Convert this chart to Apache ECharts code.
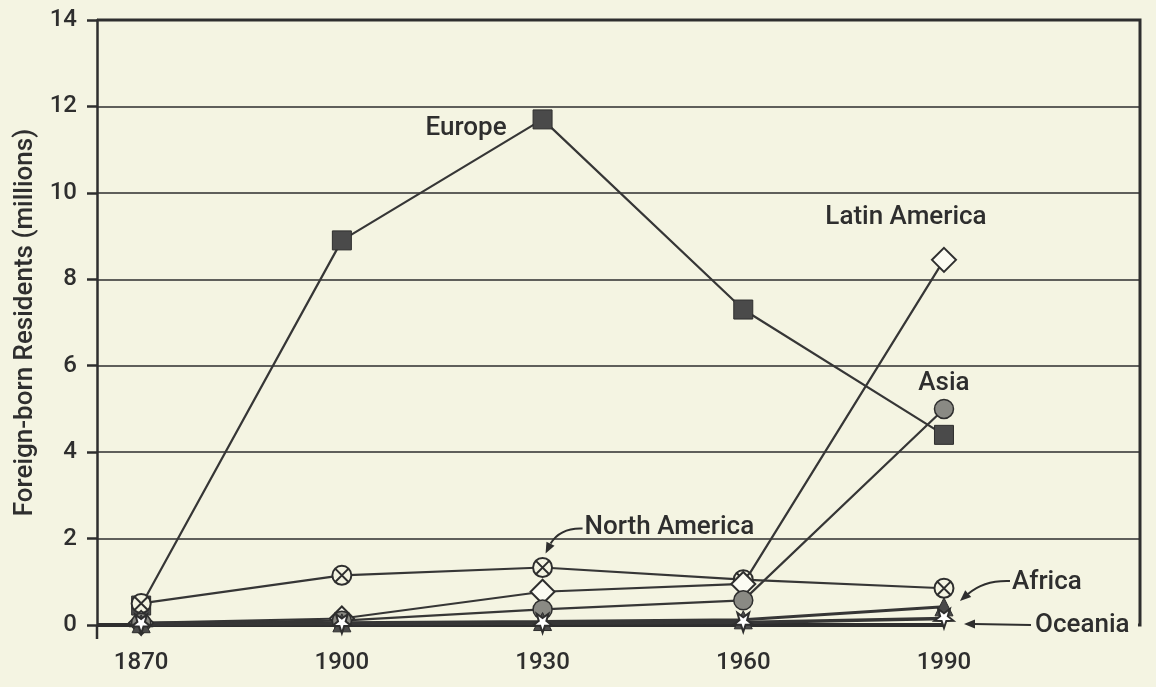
<!DOCTYPE html>
<html>
<head>
<meta charset="utf-8">
<script src="https://cdn.jsdelivr.net/npm/echarts@6/dist/echarts.min.js"></script>
<style>
  html, body { margin: 0; padding: 0; background: #f4f4e2; }
  #chart { width: 1156px; height: 687px; }
</style>
</head>
<body>
<div id="chart"></div>
<script>
// census years on the x axis
const years = [1870, 1900, 1930, 1960, 1990];
// foreign-born residents, millions
const europe       = [0.45, 8.9, 11.7, 7.3, 4.4];
const northAmerica = [0.5, 1.15, 1.33, 1.05, 0.85];
const latinAmerica = [0.05, 0.15, 0.77, 0.95, 8.45];
const asia         = [0.05, 0.1, 0.36, 0.57, 5.0];
const africa       = [0.03, 0.05, 0.08, 0.12, 0.42];
const oceania      = [0.02, 0.03, 0.04, 0.06, 0.15];

const ink = '#2e2e2e';
const lineInk = '#363636';
const font = 'Roboto, "DejaVu Sans", sans-serif';

// symbols
const circleCross = 'path://M10,0A10,10,0,1,1,10,20A10,10,0,1,1,10,0ZM3,3L17,17M17,3L3,17';
const starDown = 'path://M10,20L7.65,13.24L0.49,13.09L6.2,8.76L4.12,1.91L10,6L15.88,1.91L13.8,8.76L19.51,13.09L12.35,13.24Z';

function mk(name, vals, symbol, size, fill, bw, lw) {
  return {
    type: 'line',
    name: name,
    data: years.map((y, i) => [y, vals[i]]),
    symbol: symbol,
    symbolSize: size,
    showAllSymbol: true,
    itemStyle: { color: fill, borderColor: ink, borderWidth: bw },
    lineStyle: { color: lineInk, width: lw || 2.2 },
    emphasis: { disabled: true },
    silent: true
  };
}

const chart = echarts.init(document.getElementById('chart'));

chart.setOption({
  backgroundColor: '#f4f4e2',
  animation: false,
  textStyle: { fontFamily: font },
  grid: { left: 97, right: 16, top: 20, bottom: 62 },
  xAxis: {
    type: 'value',
    min: 1863.4,
    max: 2019.3,
    axisLine: { show: false },
    axisTick: { show: false },
    splitLine: { show: false },
    axisLabel: {
      customValues: years,
      formatter: v => String(v),
      color: ink,
      fontSize: 24,
      fontWeight: 500,
      margin: 26,
      fontFamily: font
    }
  },
  yAxis: {
    type: 'value',
    min: 0,
    max: 14,
    interval: 2,
    name: 'Foreign-born Residents (millions)',
    nameLocation: 'middle',
    nameGap: 58,
    nameTextStyle: { color: ink, fontSize: 26, fontWeight: 500, fontFamily: font },
    axisLine: { show: true, lineStyle: { color: ink, width: 2.5 } },
    axisTick: { show: true, length: 10, lineStyle: { color: ink, width: 2.5 } },
    axisLabel: { color: ink, fontSize: 24, fontWeight: 500, margin: 20, fontFamily: font },
    splitLine: { show: true, showMinLine: false, lineStyle: { color: ink, width: 1.6 } }
  },
  series: [
    mk('Europe', europe, 'rect', 19, '#4a4a4a', 1),
    mk('North America', northAmerica, circleCross, 19, '#f4f4e2', 2),
    mk('Latin America', latinAmerica, 'diamond', 24, '#fbfbf2', 2),
    mk('Asia', asia, 'circle', 19, '#8a8a84', 1.5),
    mk('Africa', africa, 'triangle', 18, '#4a4a4a', 1, 3),
    mk('Oceania', oceania, starDown, 19, '#ffffff', 2, 3.5)
  ]
});

// annotations, anchored on data points
const px = (x, y) => chart.convertToPixel({ gridIndex: 0 }, [x, y]);
const last = years.length - 1;
const E = px(years[2], europe[2]);
const L = px(years[last], latinAmerica[last]);
const S = px(years[last], asia[last]);
const N = px(years[2], northAmerica[2]);
const O = px(years[last], 0);
const Z0 = px(1863.4, 0);
const TR = px(2019.3, 14);

function head(tip, from, len, hw) {
  const dx = tip[0] - from[0], dy = tip[1] - from[1];
  const d = Math.sqrt(dx * dx + dy * dy);
  const ux = dx / d, uy = dy / d;
  const bx = tip[0] - ux * len, by = tip[1] - uy * len;
  return {
    type: 'polygon', z: 20, silent: true,
    shape: { points: [tip, [bx - uy * hw, by + ux * hw], [bx + uy * hw, by - ux * hw]] },
    style: { fill: ink }
  };
}

function label(text, x, y, align) {
  return {
    type: 'text', z: 20, silent: true, x: x, y: y,
    style: { text: text, fill: ink, font: '500 26px ' + font, align: align || 'left', verticalAlign: 'middle' }
  };
}

const ocRight = O[0] + 93 + 98;

chart.setOption({
  graphic: [
    // zero line up to the last census year and the axis corner
    { type: 'line', z: 1, silent: true, shape: { x1: Z0[0], y1: Z0[1], x2: O[0], y2: O[1] }, style: { stroke: ink, lineWidth: 4 } },
    { type: 'line', z: 1, silent: true, shape: { x1: Z0[0], y1: Z0[1], x2: Z0[0], y2: Z0[1] + 14 }, style: { stroke: ink, lineWidth: 2.5 } },
    // top and right frame, tied to the Oceania label
    { type: 'polyline', z: 1, silent: true,
      shape: { points: [[Z0[0], TR[1]], [TR[0], TR[1]], [TR[0], O[1]], [ocRight + 3, O[1]]] },
      style: { stroke: ink, lineWidth: 3, fill: null } },

    label('Europe', E[0] - 36, E[1] + 9, 'right'),
    label('Latin America', L[0] - 38, L[1] - 42, 'center'),
    label('Asia', S[0], S[1] - 25, 'center'),

    label('North America', N[0] + 42, N[1] - 40, 'left'),
    { type: 'bezierCurve', z: 20, silent: true,
      shape: { x1: N[0] + 40, y1: N[1] - 39, cpx1: N[0] + 18, cpy1: N[1] - 40, x2: N[0] + 8, y2: N[1] - 24 },
      style: { stroke: ink, lineWidth: 2, fill: null } },
    head([N[0] + 3, N[1] - 14], [N[0] + 9, N[1] - 26], 11, 4.5),

    label('Africa', O[0] + 68, O[1] - 43, 'left'),
    { type: 'bezierCurve', z: 20, silent: true,
      shape: { x1: O[0] + 66, y1: O[1] - 44, cpx1: O[0] + 40, cpy1: O[1] - 45, x2: O[0] + 24, y2: O[1] - 31 },
      style: { stroke: ink, lineWidth: 2, fill: null } },
    head([O[0] + 16, O[1] - 24], [O[0] + 25, O[1] - 32], 11, 4.5),

    label('Oceania', O[0] + 91, O[1], 'left'),
    { type: 'line', z: 20, silent: true, shape: { x1: O[0] + 87, y1: O[1], x2: O[0] + 30, y2: O[1] - 1 }, style: { stroke: ink, lineWidth: 2 } },
    head([O[0] + 20, O[1] - 1], [O[0] + 32, O[1] - 1], 11, 4.5)
  ]
});
</script>
</body>
</html>
